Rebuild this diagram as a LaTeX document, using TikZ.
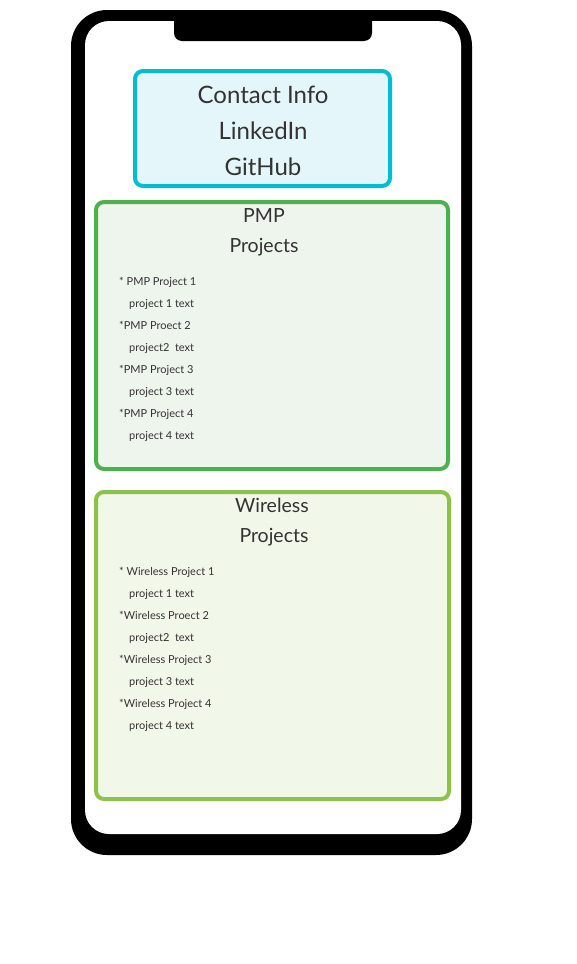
\documentclass[tikz,border=0pt]{standalone}
\usepackage{fontspec}
\setmainfont{Lato}
\definecolor{txt}{HTML}{333333}
\definecolor{cyanS}{HTML}{00BCD4}
\definecolor{cyanF}{HTML}{E5F6FA}
\definecolor{pmpS}{HTML}{4CAF50}
\definecolor{pmpF}{HTML}{EDF5EC}
\definecolor{wlS}{HTML}{8BC34A}
\definecolor{wlF}{HTML}{F1F8E9}
\begin{document}
\begin{tikzpicture}[x=1pt,y=-1pt,
  panel/.style={draw, line width=4pt, rounded corners=8pt, inner sep=0pt},
  big/.style={text=txt, anchor=base, inner sep=0pt, font=\fontsize{24}{28}\selectfont},
  title/.style={text=txt, anchor=base, inner sep=0pt, font=\fontsize{19.5}{24}\selectfont},
  item/.style={text=txt, anchor=base west, inner sep=0pt, font=\fontsize{11}{13}\selectfont}]
\useasboundingbox (0,0) rectangle (576,964);
% phone
\fill[black, rounded corners=36pt] (71,10) rectangle (472,855);
\fill[white, rounded corners=24pt] (85,21) rectangle (461,834);
\fill[black, rounded corners=8pt] (174,11) rectangle (372,41);
% contact panel
\node[panel, draw=cyanS, fill=cyanF, minimum width=255pt, minimum height=115pt] (contact) at (262.5,128.5) {};
\node[big] (c1) at (263,103) {Contact Info};
\node[big] (c2) at (263,139) {LinkedIn};
\node[big] (c3) at (263,175) {GitHub};
% PMP panel
\node[panel, draw=pmpS, fill=pmpF, minimum width=352pt, minimum height=267pt] (pmp) at (272,335.5) {};
\node[title] (p1) at (264,222) {PMP};
\node[title] (p2) at (264,252) {Projects};
\node[item] (pa) at (119,285.5) {* PMP Project 1};
\node[item] (pb) at (129,307.5) {project 1 text};
\node[item] (pc) at (119,329.5) {*PMP Proect 2};
\node[item] (pd) at (129,351.5) {project2\ \ text};
\node[item] (pe) at (119,373.5) {*PMP Project 3};
\node[item] (pf) at (129,395.5) {project 3 text};
\node[item] (pg) at (119,417.5) {*PMP Project 4};
\node[item] (ph) at (129,439.5) {project 4 text};
% Wireless panel
\node[panel, draw=wlS, fill=wlF, minimum width=353pt, minimum height=307pt] (wl) at (272.5,645.5) {};
\node[title] (w1) at (272,512) {Wireless};
\node[title] (w2) at (274,542) {Projects};
\node[item] (wa) at (119,575.5) {* Wireless Project 1};
\node[item] (wb) at (129,597.5) {project 1 text};
\node[item] (wc) at (119,619.5) {*Wireless Proect 2};
\node[item] (wd) at (129,641.5) {project2\ \ text};
\node[item] (we) at (119,663.5) {*Wireless Project 3};
\node[item] (wf) at (129,685.5) {project 3 text};
\node[item] (wg) at (119,707.5) {*Wireless Project 4};
\node[item] (wh) at (129,729.5) {project 4 text};
\end{tikzpicture}
\end{document}
